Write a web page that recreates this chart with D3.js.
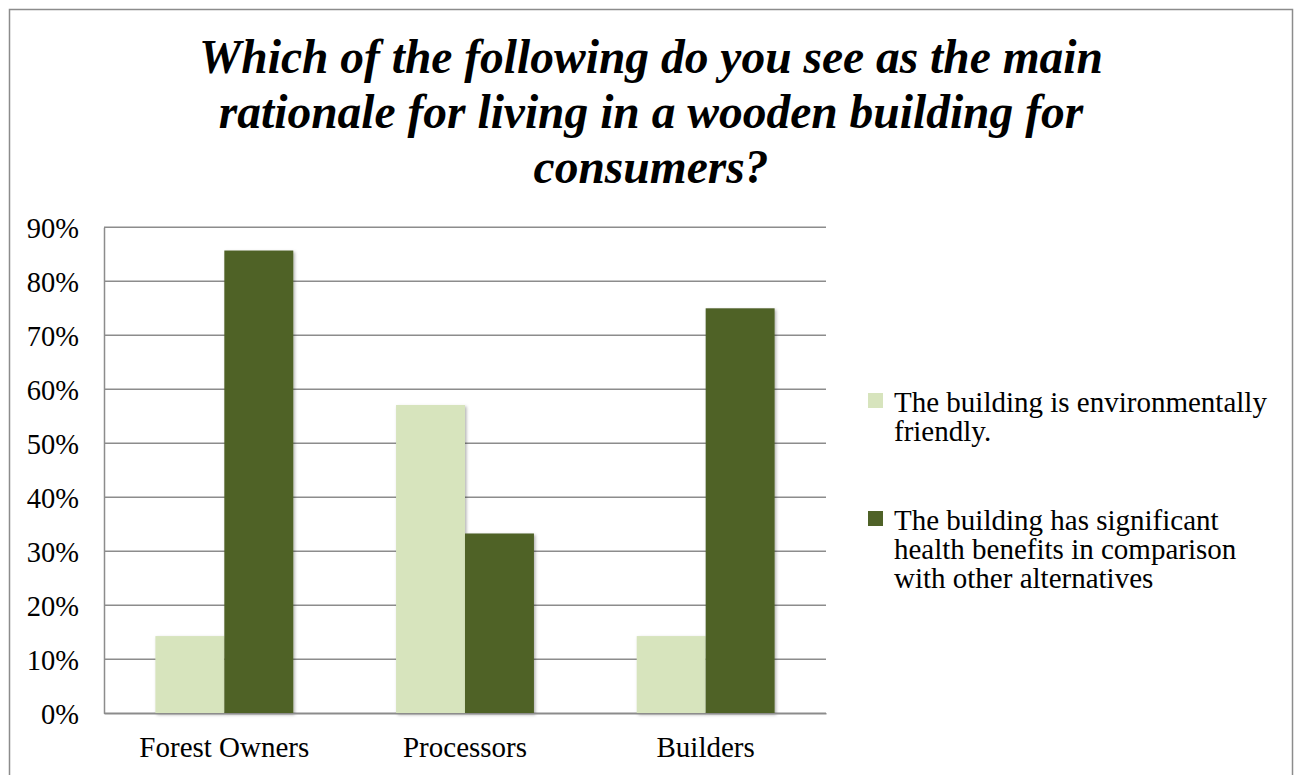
<!DOCTYPE html>
<html>
<head>
<meta charset="utf-8">
<script src="https://cdn.jsdelivr.net/npm/d3@7"></script>
<style>
  html, body { margin: 0; padding: 0; background: #fff; }
  svg { display: block; }
  text { font-family: "Liberation Serif", "Times New Roman", serif; fill: #000; }
</style>
</head>
<body>
<svg id="chart" width="1294" height="775"></svg>
<script>
// Survey responses by respondent group
const categories = ["Forest Owners", "Processors", "Builders"];
const seriesNames = [
  "The building is environmentally friendly.",
  "The building has significant health benefits in comparison with other alternatives"
];
const environmentallyFriendly = [0.143, 0.571, 0.143];
const healthBenefits = [0.857, 0.333, 0.75];
const yTicks = [0, 0.1, 0.2, 0.3, 0.4, 0.5, 0.6, 0.7, 0.8, 0.9];
const titleLines = [
  "Which of the following do you see as the main",
  "rationale for living in a wooden building for",
  "consumers?"
];
const legendLines = [
  ["The building is environmentally", "friendly."],
  ["The building has significant", "health benefits in comparison", "with other alternatives"]
];
const colors = ["#d7e4bd", "#4f6228"];

const svg = d3.select("#chart");

// drop shadow for bars
const defs = svg.append("defs");
const f = defs.append("filter").attr("id", "shadow")
  .attr("x", "-10%").attr("y", "-10%").attr("width", "130%").attr("height", "130%");
f.append("feDropShadow").attr("dx", 1.5).attr("dy", 1.5).attr("stdDeviation", 1.5)
  .attr("flood-color", "#000").attr("flood-opacity", 0.3);

// outer frame
svg.append("rect")
  .attr("x", 9.5).attr("y", 9.5).attr("width", 1283).attr("height", 800)
  .attr("fill", "#fff").attr("stroke", "#8c8c8c").attr("stroke-width", 1.5);

// title
svg.append("g").selectAll("text").data(titleLines).join("text")
  .attr("x", 651).attr("y", (d, i) => 73 + i * 55)
  .attr("text-anchor", "middle")
  .style("font-size", "47.5px").style("font-weight", "bold").style("font-style", "italic")
  .text(d => d);

const plot = { left: 104, right: 826, top: 227.3, bottom: 713.3 };

const x0 = d3.scaleBand().domain(categories)
  .range([plot.left, plot.right]).paddingInner(0.427).paddingOuter(0.2135);
const x1 = d3.scaleBand().domain([0, 1]).range([0, x0.bandwidth()]);
const y = d3.scaleLinear().domain([0, 0.9]).range([plot.bottom, plot.top]);

// gridlines
svg.append("g").selectAll("line").data(yTicks).join("line")
  .attr("x1", plot.left).attr("x2", plot.right)
  .attr("y1", d => y(d)).attr("y2", d => y(d))
  .attr("stroke", "#8c8c8c").attr("stroke-width", 1.5);

// y axis
const yAxis = svg.append("g")
  .attr("transform", `translate(${plot.left},0)`)
  .call(d3.axisLeft(y).tickValues(yTicks).tickFormat(d3.format(".0%")).tickSize(0).tickPadding(25));
yAxis.select(".domain").attr("stroke", "#8c8c8c").attr("stroke-width", 1.5);
yAxis.selectAll("text").style("font-size", "28.5px").attr("dy", "0.34em").attr("fill", "#000");

// bars
const rows = categories.map((c, i) => ({ c, v: [environmentallyFriendly[i], healthBenefits[i]] }));
const groups = svg.append("g").selectAll("g").data(rows).join("g")
  .attr("transform", d => `translate(${x0(d.c)},0)`);
groups.selectAll("rect").data(d => d.v.map((v, k) => ({ v, k }))).join("rect")
  .attr("x", d => x1(d.k)).attr("width", x1.bandwidth())
  .attr("y", d => y(d.v)).attr("height", d => y(0) - y(d.v))
  .attr("fill", d => colors[d.k]).attr("filter", "url(#shadow)");

// x axis
const xAxis = svg.append("g")
  .attr("transform", `translate(0,${plot.bottom})`)
  .call(d3.axisBottom(x0).tickSize(0).tickPadding(23.5));
xAxis.select(".domain").attr("stroke", "#8c8c8c").attr("stroke-width", 1.5);
xAxis.selectAll("text").style("font-size", "29px").attr("fill", "#000");

// legend
const legendTop = [412, 530];
const legend = svg.append("g");
legendLines.forEach((lines, k) => {
  legend.append("rect")
    .attr("x", 868).attr("y", legendTop[k] - 19).attr("width", 15).attr("height", 15)
    .attr("fill", colors[k]);
  legend.append("g").selectAll("text").data(lines).join("text")
    .attr("x", 894).attr("y", (d, i) => legendTop[k] + i * 29)
    .style("font-size", "29px")
    .text(d => d);
});
</script>
</body>
</html>
